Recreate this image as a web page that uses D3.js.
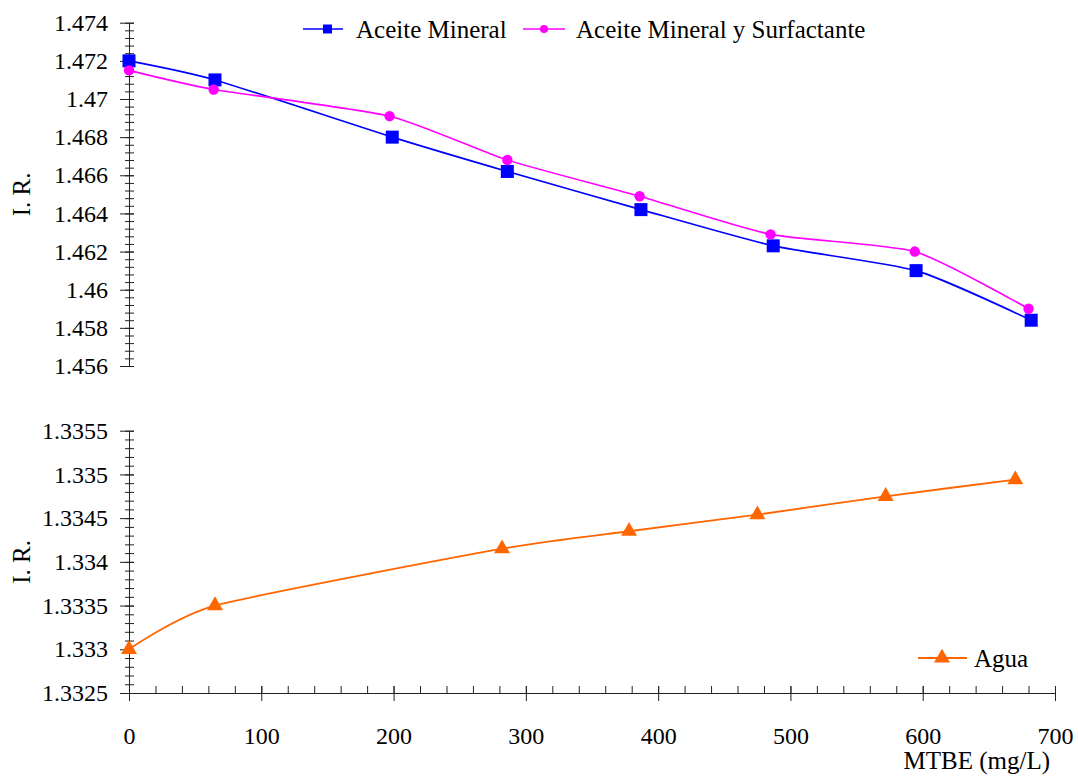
<!DOCTYPE html>
<html>
<head>
<meta charset="utf-8">
<script src="https://cdn.jsdelivr.net/npm/d3@7"></script>
<style>
  body { margin: 0; background: #fff; }
  svg text { font-family: "Liberation Serif", "Times New Roman", serif !important; fill: #000; }
</style>
</head>
<body>
<svg id="chart"></svg>
<script>
// data
const mineralX = [0, 65, 199, 286, 387, 487, 595, 682];
const mineralY = [1.472, 1.471, 1.468, 1.4662, 1.4642, 1.4623, 1.461, 1.4584];
const surfX = [0, 64, 197, 286, 386, 485, 594, 680];
const surfY = [1.4715, 1.4705, 1.4691, 1.4668, 1.4649, 1.4629, 1.462, 1.459];
const aguaX = [0, 65, 282, 378, 475, 572, 670];
const aguaY = [1.333, 1.3335, 1.33415, 1.33435, 1.33454, 1.33475, 1.33494];

const topTicks = [1.456, 1.458, 1.46, 1.462, 1.464, 1.466, 1.468, 1.47, 1.472, 1.474];
const botTicks = [1.3325, 1.333, 1.3335, 1.334, 1.3345, 1.335, 1.3355];
const xTicks = [0, 100, 200, 300, 400, 500, 600, 700];

const width = 1078;
const height = 776;
const axisColor = "#222";
const serif = '"Liberation Serif", "Times New Roman", serif';

const svg = d3.select("#chart").attr("width", width).attr("height", height);

const xScale = d3.scaleLinear().domain([0, 700]).range([129, 1055]);
const yTop = d3.scaleLinear().domain([1.456, 1.474]).range([366, 22.7]);
const yBot = d3.scaleLinear().domain([1.3325, 1.3355]).range([693, 430.7]);

const line = (xs, ys, y) =>
  d3.line()
    .x((d, i) => xScale(xs[i]))
    .y((d) => y(d))
    .curve(d3.curveCardinal.tension(0.4))(ys);

function yAxis(scale, majors, minorStep, fmt) {
  const g = svg.append("g").attr("transform", `translate(${xScale(0)},0)`);
  const [lo, hi] = scale.domain();
  const minors = d3.range(0, Math.round((hi - lo) / minorStep) + 1).map((i) => lo + i * minorStep);
  const minorAxis = d3.axisLeft(scale).tickValues(minors).tickSize(4).tickFormat("").tickSizeOuter(0);
  g.append("g").call(minorAxis);
  const majorAxis = d3.axisLeft(scale).tickValues(majors).tickSize(9).tickPadding(12).tickFormat(fmt).tickSizeOuter(0);
  const mg = g.append("g").call(majorAxis);
  g.selectAll(".tick line").attr("x1", 5).attr("stroke", axisColor);
  g.selectAll(".domain").attr("stroke", axisColor);
  mg.selectAll("text").style("font-family", serif).style("font-size", "24px").attr("fill", "#000");
}

yAxis(yTop, topTicks, 0.0004, (d) => d3.format("")(+d.toFixed(3)));
yAxis(yBot, botTicks, 0.0001, (d) => d3.format("")(+d.toFixed(4)));

// x axis
const xg = svg.append("g").attr("transform", `translate(0,${yBot(1.3325)})`);
xg.append("g").call(
  d3.axisBottom(xScale).tickValues(d3.range(0, 701, 20)).tickSize(-7).tickFormat("").tickSizeOuter(0)
);
const xMajor = xg.append("g").call(
  d3.axisBottom(xScale).tickValues(xTicks).tickSize(8).tickPadding(26).tickFormat(d3.format("d")).tickSizeOuter(0)
);
xMajor.selectAll(".tick line").attr("y1", -7);
xg.selectAll(".tick line").attr("stroke", axisColor);
xg.selectAll(".domain").attr("stroke", axisColor);
xMajor.selectAll("text").style("font-family", serif).style("font-size", "24px");

// axis titles
svg.append("text")
  .attr("transform", `translate(30,${(yTop.range()[0] + yTop.range()[1]) / 2}) rotate(-90)`)
  .attr("text-anchor", "middle")
  .style("font-size", "25px")
  .text("I. R.");
svg.append("text")
  .attr("transform", `translate(30,${(yBot.range()[0] + yBot.range()[1]) / 2}) rotate(-90)`)
  .attr("text-anchor", "middle")
  .style("font-size", "25px")
  .text("I. R.");
svg.append("text")
  .attr("x", 1050)
  .attr("y", 769)
  .attr("text-anchor", "end")
  .style("font-size", "25px")
  .text("MTBE (mg/L)");

// series lines
svg.append("path").attr("d", line(mineralX, mineralY, yTop))
  .attr("fill", "none").attr("stroke", "#0000ff").attr("stroke-width", 1.6);
svg.append("path").attr("d", line(surfX, surfY, yTop))
  .attr("fill", "none").attr("stroke", "#ff00ff").attr("stroke-width", 1.6);
svg.append("path").attr("d", line(aguaX, aguaY, yBot))
  .attr("fill", "none").attr("stroke", "#ff6600").attr("stroke-width", 1.8);

// markers
svg.selectAll(".sq")
  .data(mineralY)
  .enter()
  .append("rect")
  .attr("class", "sq")
  .attr("x", (d, i) => xScale(mineralX[i]) - 6.5)
  .attr("y", (d) => yTop(d) - 6.5)
  .attr("width", 13)
  .attr("height", 13)
  .attr("fill", "#0000ff");

svg.selectAll(".dot")
  .data(surfY)
  .enter()
  .append("circle")
  .attr("class", "dot")
  .attr("cx", (d, i) => xScale(surfX[i]))
  .attr("cy", (d) => yTop(d))
  .attr("r", 5.2)
  .attr("fill", "#ff00ff");

const tri = d3.symbol().type(d3.symbolTriangle).size(110);
svg.selectAll(".tri")
  .data(aguaY)
  .enter()
  .append("path")
  .attr("class", "tri")
  .attr("d", tri)
  .attr("transform", (d, i) => `translate(${xScale(aguaX[i])},${yBot(d)})`)
  .attr("fill", "#ff6600");

// legends
const legTop = svg.append("g").attr("transform", "translate(0,29)");
legTop.append("line").attr("x1", 303).attr("x2", 343).attr("stroke", "#0000ff").attr("stroke-width", 1.6);
legTop.append("rect").attr("x", 323).attr("y", -4.5).attr("width", 9).attr("height", 9).attr("fill", "#0000ff");
legTop.append("text").attr("x", 356).attr("y", 8.5).style("font-size", "25px").text("Aceite Mineral");
legTop.append("line").attr("x1", 523).attr("x2", 565).attr("stroke", "#ff00ff").attr("stroke-width", 1.6);
legTop.append("circle").attr("cx", 544).attr("cy", 0).attr("r", 4).attr("fill", "#ff00ff");
legTop.append("text").attr("x", 576).attr("y", 8.5).style("font-size", "25px").text("Aceite Mineral y Surfactante");

const legBot = svg.append("g").attr("transform", "translate(0,658)");
legBot.append("line").attr("x1", 918).attr("x2", 967).attr("stroke", "#ff6600").attr("stroke-width", 1.8);
legBot.append("path").attr("d", tri).attr("transform", "translate(942,0)").attr("fill", "#ff6600");
legBot.append("text").attr("x", 974).attr("y", 8.5).style("font-size", "25px").text("Agua");
</script>
</body>
</html>
